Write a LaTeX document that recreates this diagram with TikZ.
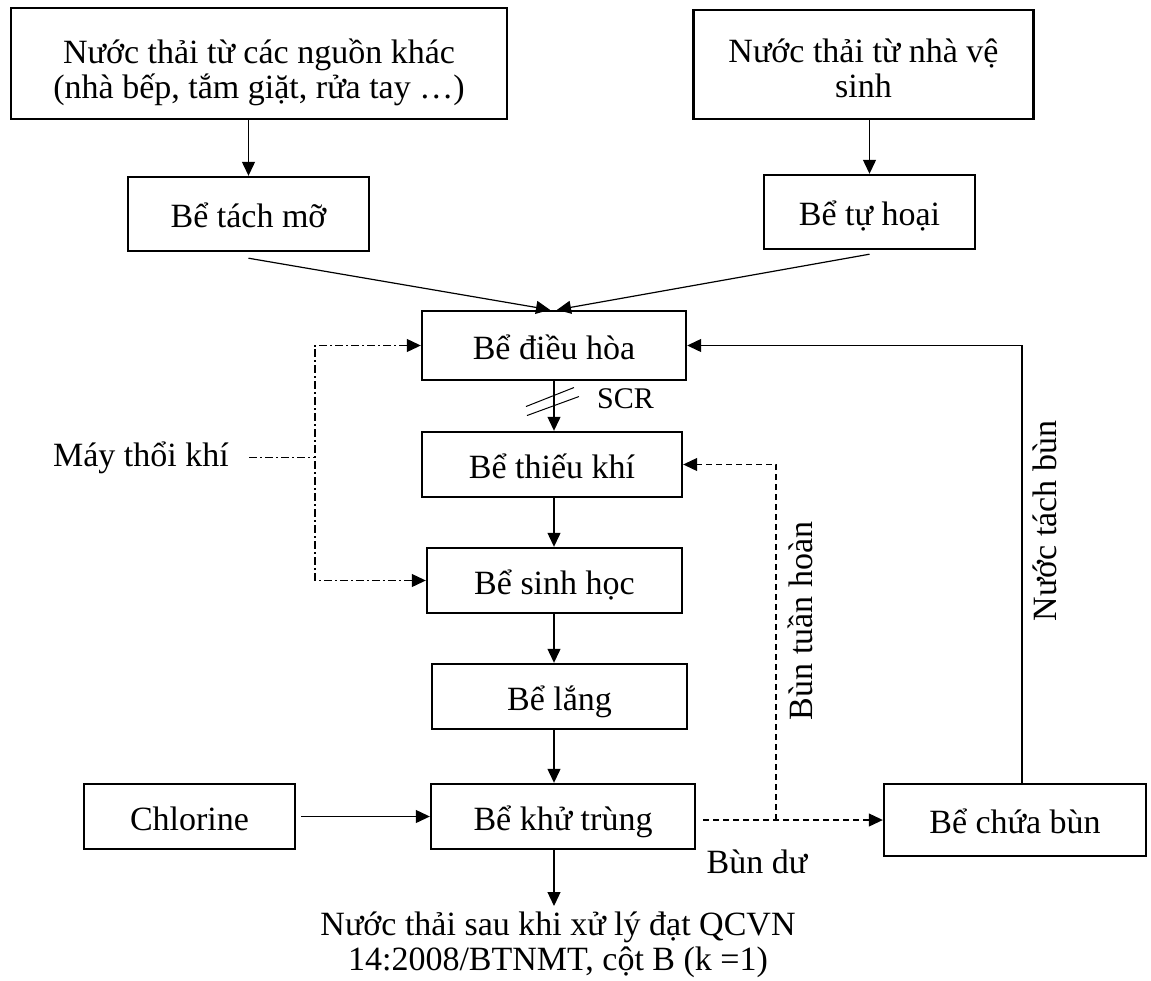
\documentclass[tikz,border=0pt]{standalone}
\usepackage{fontspec}
\setmainfont{Liberation Serif}
\usetikzlibrary{arrows.meta}

\begin{document}
\begin{tikzpicture}[x=1pt,y=-1pt,
  font=\fontsize{34}{35}\selectfont,
  tank/.style={draw, line width=2.4pt, inner sep=0pt, align=center,
               text height=27pt, text depth=0pt},
  tip/.style={-{Triangle[length=14pt,width=13pt]}},
  flow/.style={line width=1.2pt, tip},
  retline/.style={line width=1.1pt, dash pattern=on 6pt off 4pt, tip},
  airline/.style={line width=1.1pt, dash pattern=on 8pt off 3pt on 2pt off 3pt},
  notag/.style={inner sep=0pt}
]
\useasboundingbox (0,0) rectangle (1151,980);

% sources and pre-treatment
\node[tank, minimum width=496pt, minimum height=111pt, text height=69pt] (src1) at (259,63.5)
  {Nước thải từ các nguồn khác\\(nhà bếp, tắm giặt, rửa tay …)};
\node[tank, minimum width=340pt, minimum height=109pt, text height=65pt] (src2) at (863.5,64.5)
  {Nước thải từ nhà vệ\\sinh};
\node[tank, minimum width=241pt, minimum height=74pt] (tachmo) at (248.5,214) {Bể tách mỡ};
\node[tank, minimum width=211pt, minimum height=74pt] (tuhoai) at (869.5,212) {Bể tự hoại};

% main treatment line
\node[tank, minimum width=264pt, minimum height=69pt] (dieuhoa) at (554,345.5) {Bể điều hòa};
\node[tank, minimum width=260pt, minimum height=65pt] (thieukhi) at (552,464.5) {Bể thiếu khí};
\node[tank, minimum width=255pt, minimum height=65pt] (sinhhoc) at (554.5,580.5) {Bể sinh học};
\node[tank, minimum width=255pt, minimum height=65pt] (lang) at (559.5,696.5) {Bể lắng};
\node[tank, minimum width=264pt, minimum height=65pt] (khutrung) at (563,816.5) {Bể khử trùng};
\node[tank, minimum width=211pt, minimum height=65pt] (chlorine) at (189.5,816.5) {Chlorine};
\node[tank, minimum width=262pt, minimum height=72pt] (chuabun) at (1015,820) {Bể chứa bùn};

% free texts
\node[notag, anchor=north, align=center, text height=64pt] (outlet) at (558,906)
  {Nước thải sau khi xử lý đạt QCVN\\14:2008/BTNMT, cột B (k =1)};
\node[notag, anchor=base east] (blower) at (229,466) {Máy thổi khí};
\node[notag, anchor=base west, font=\fontsize{30}{32}\selectfont] (scr) at (597,408) {SCR};
\node[notag, anchor=base] (budu) at (757,873) {Bùn dư};
\node[rotate=90] (lblret) at (800,621) {Bùn tuần hoàn};
\node[rotate=90] (lblsep) at (1045,521) {Nước tách bùn};

% helper columns
\coordinate (col) at (554,0);
\coordinate (airbus) at (315,0);
\coordinate (retx) at (776,0);
\coordinate (sepx) at (1022,0);

% inflows
\draw[flow] (src1.south -| tachmo.north) -- (tachmo.north);
\draw[flow] (src2.south -| tuhoai.north) -- (tuhoai.north);
\draw[flow] ([yshift=-6pt]tachmo.south) -- ([xshift=-4pt]dieuhoa.north);
\draw[flow] ([yshift=-4pt]tuhoai.south) -- ([xshift=3pt]dieuhoa.north);

% main column
\draw[flow] (dieuhoa.south -| col) -- coordinate[pos=0.45] (pump) (thieukhi.north -| col);
\draw[flow] (thieukhi.south -| col) -- (sinhhoc.north -| col);
\draw[flow] (sinhhoc.south -| col) -- (lang.north -| col);
\draw[flow] (lang.south -| col) -- (khutrung.north -| col);
\draw[flow] (khutrung.south -| col) -- (outlet.north -| col);
\draw[flow] ([xshift=5pt]chlorine.east) -- (khutrung.west);

% pump mark
\draw[line width=1pt] ([shift={(-28pt,-3pt)}]pump) -- ([shift={(20pt,16pt)}]pump);
\draw[line width=1pt] ([shift={(-27pt,-12pt)}]pump) -- ([shift={(25pt,7pt)}]pump);

% air supply
\draw[airline] ([xshift=20pt]blower.east) -- (blower.east -| airbus);
\draw[airline, {Triangle[length=14pt,width=13pt]}-{Triangle[length=14pt,width=13pt]}]
  (dieuhoa.west) -- (dieuhoa.west -| airbus) -- (sinhhoc.west -| airbus) -- (sinhhoc.west);

% sludge lines
\draw[retline] ([xshift=7pt]khutrung.east |- chuabun.west) -- (chuabun.west);
\draw[retline] (retx |- chuabun.west) -- (retx |- thieukhi.east) -- (thieukhi.east);
\draw[flow] (chuabun.north -| sepx) -- (sepx |- dieuhoa.east) -- (dieuhoa.east);
\end{tikzpicture}
\end{document}
